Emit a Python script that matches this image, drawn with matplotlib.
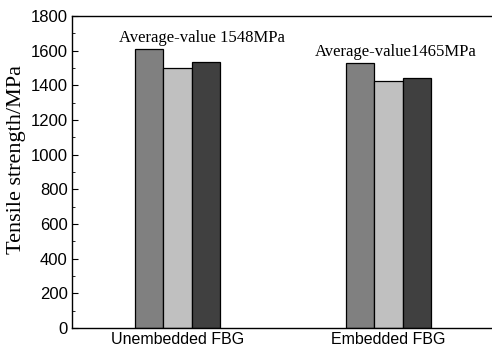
import numpy as np
import matplotlib
matplotlib.use("Agg")
from matplotlib import pyplot as plt
from matplotlib.ticker import MultipleLocator

groups = ["Unembedded FBG", "Embedded FBG"]
sample1 = [1607, 1530]
sample2 = [1500, 1424]
sample3 = [1537, 1441]
avg_labels = ["Average-value 1548MPa", "Average-value1465MPa"]
# where each average note sits (group offset, height in MPa)
avg_pos = [(0.116, 1673), (1.033, 1592)]

colors = ["#808080", "#c0c0c0", "#404040"]

fig = plt.figure(figsize=(4.92, 3.52), dpi=100)
ax = fig.add_axes([72 / 492, 24 / 352, 422 / 492, 312 / 352])

x = np.arange(len(groups))
w = 0.134
for i, vals in enumerate([sample1, sample2, sample3]):
    ax.bar(x + (i - 1) * w, vals, width=w, color=colors[i],
           edgecolor="black", linewidth=0.9, zorder=2)

for lbl, (px, py) in zip(avg_labels, avg_pos):
    ax.text(px, py, lbl, ha="center", va="center",
            family="Liberation Serif", fontsize=12)

ax.set_xlim(-0.5, 1.5)
ax.set_ylim(0, 1800)
ax.set_xticks(x)
ax.set_xticklabels(groups, family="Liberation Sans", fontsize=11.5)
ax.yaxis.set_major_locator(MultipleLocator(200))
ax.yaxis.set_minor_locator(MultipleLocator(100))
ax.tick_params(axis="y", which="major", direction="in", length=4,
               labelsize=12, pad=3)
ax.tick_params(axis="y", which="minor", direction="in", length=2)
ax.tick_params(axis="x", direction="in", length=4, pad=3)
for lbl in ax.get_yticklabels():
    lbl.set_family("Liberation Sans")
ax.set_ylabel("Tensile strength/MPa", family="Liberation Serif", fontsize=16)
ax.yaxis.set_label_coords(-46 / 422, 0.54)
ax.spines["right"].set_visible(False)
for s in ["left", "bottom", "top"]:
    ax.spines[s].set_linewidth(1.0)

plt.savefig("out.png", dpi=100)
